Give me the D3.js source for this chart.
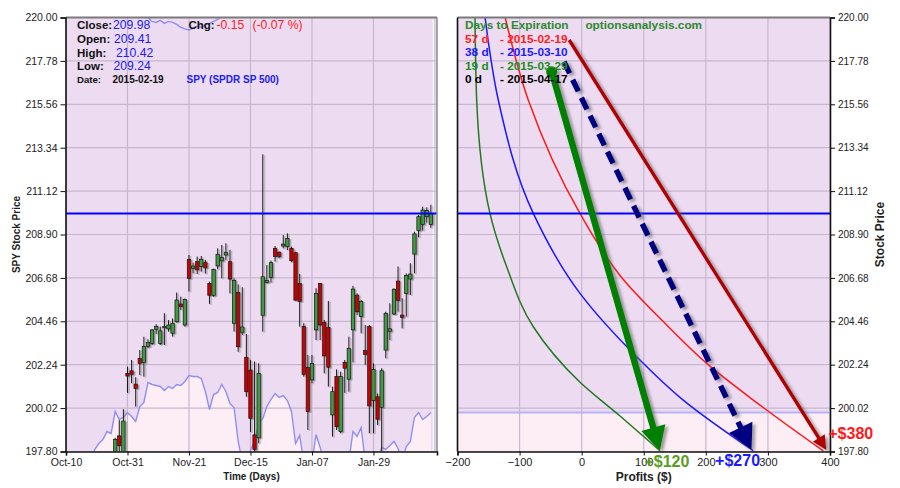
<!DOCTYPE html>
<html><head><meta charset="utf-8">
<script src="https://cdn.jsdelivr.net/npm/d3@7"></script>
<style>
body{margin:0;background:#fff;}
svg{display:block;font-family:"Liberation Sans",Arial,sans-serif;}
</style></head><body>
<svg id="c" width="900" height="488"></svg>
<script>
// ---------------- DATA ----------------
// trading-day index 0 = 2014-10-10 ... 89 = 2015-02-19
const openP  = [193.5,190.2,188.3,185.2,183.9,188.4,188.1,191.7,194.5,193.7,194.6,195.0,196.3,198.6,197.4,201.80,201.93,201.25,202.55,202.36,203.17,203.33,204.05,203.33,204.17,204.07,203.85,204.44,205.35,204.27,207.63,207.17,207.51,207.26,207.46,206.40,205.79,207.29,207.55,207.85,207.51,204.36,205.94,203.90,202.62,201.97,198.65,198.50,204.77,206.44,206.71,208.19,208.00,208.31,208.28,208.19,207.97,206.40,204.19,202.11,201.46,204.02,206.40,204.41,204.15,199.67,201.63,198.82,202.36,201.50,204.02,205.80,204.70,202.96,204.19,200.40,200.60,200.06,202.99,203.95,204.83,206.52,204.78,205.89,206.62,207.90,209.10,209.42,209.81,209.41];
const highP  = [194.0,191.0,189.8,187.0,187.1,189.7,190.4,194.2,194.8,195.2,195.7,195.9,198.5,199.4,199.96,202.14,202.48,201.60,202.99,203.67,203.54,204.06,204.31,204.19,204.87,204.52,204.61,205.93,205.72,205.63,207.85,207.46,207.77,207.80,207.60,206.49,207.15,208.19,208.36,208.45,208.11,206.66,206.35,206.20,203.81,202.48,202.40,202.31,213.00,207.34,207.56,208.31,208.02,208.87,208.96,208.28,208.02,206.88,204.36,202.74,202.74,206.15,206.40,204.53,205.50,201.12,202.00,201.88,202.48,203.67,206.27,205.89,205.55,204.27,204.27,202.31,200.77,202.06,204.95,205.38,206.15,207.26,205.64,206.91,207.43,209.04,209.90,210.32,210.29,210.42];
const lowP   = [190.5,187.4,187.5,181.9,183.3,187.8,188.0,191.3,192.0,192.9,194.0,194.7,196.1,196.9,196.9,200.80,201.29,200.10,201.71,201.63,203.08,203.25,203.81,203.25,203.25,203.93,203.68,204.39,205.04,204.19,205.98,206.91,206.88,207.00,206.90,205.35,205.72,207.12,206.66,207.60,205.89,203.93,202.90,203.76,200.60,198.80,197.50,198.22,203.93,206.40,206.44,207.51,207.68,208.19,208.10,207.48,205.52,204.19,201.63,198.90,201.29,203.50,203.50,201.80,201.12,198.56,198.90,198.73,200.80,200.86,202.36,204.78,203.85,202.23,198.73,198.73,199.16,197.80,202.57,203.50,204.78,204.95,204.10,204.70,205.81,206.91,208.76,209.10,209.51,209.24];
const closeP = [190.54,187.41,187.70,186.43,186.27,188.47,190.30,194.07,191.96,194.35,195.66,195.44,198.42,198.10,199.36,201.66,201.75,201.03,202.31,203.17,203.37,204.02,204.19,203.97,204.19,204.27,204.36,205.55,205.21,205.58,206.66,207.29,207.09,207.63,207.19,205.79,207.12,207.89,207.72,207.99,206.62,206.54,203.16,204.17,200.86,199.50,197.90,201.80,206.74,206.54,207.46,207.77,207.77,208.41,208.70,207.56,205.54,205.47,201.75,199.84,202.31,205.89,204.27,202.69,202.11,200.86,199.07,201.63,202.06,203.08,206.11,204.95,205.47,202.77,200.13,202.00,199.45,201.93,204.87,204.08,206.10,205.52,204.66,206.80,206.88,208.93,209.81,210.15,210.13,209.98];
// lower indicator line (arbitrary units, negative = below panel floor)
const lowerLine = [-10,-10,-10,-10,-10,-10,-10,2,8,12,20,18,40,32,34,39,35,30,45,49,69,67,66,65,61,65,63,67,66,70,76,75,75,73,60,42,57,59,67,60,48,44,10,-10,-10,1,10,28,33,45,52,58,54,56,51,40,8,16,-10,-10,-10,17,4,-10,-10,-10,-10,-10,-10,-10,20,15,24,-10,-10,-10,-10,4,2,6,10,3,-10,5,10,34,39,32,35,39];
// upper indicator segment (price units, trading-day index 19..39)
const upperIdx  = [19,20,21,22,23,24,25,26,27,28,29,30,31,32,33,34,35,36,37,38,39];
const upperLine = [220.4,220.0,219.8,219.75,219.85,219.7,219.8,219.75,219.65,219.5,219.42,219.36,219.45,219.55,219.5,219.62,219.7,219.8,219.9,220.05,220.3];
const currentPrice = 209.98;
const lastDate = "2015-02-19";
const symbolName = "SPY (SPDR SP 500)";

const priceTicks = [197.80,200.02,202.24,204.46,206.68,208.90,211.12,213.34,215.56,217.78,220.00];
const timeTickIdx = [0,15,30,45,60,75];
const timeTickLabels = ["Oct-10","Oct-31","Nov-21","Dec-15","Jan-07","Jan-29"];
const profitTicks = [-200,-100,0,100,200,300,400];

// P/L curves: price levels and profit ($) for each days-to-expiration
const curvePrices19 = [220.03,215.78,209.98,207.25,204.18,201.37,199.64,197.84];
const curveProfit19 = [-171.8,-169.1,-147.7,-120.8,-77.9,-3.5,60.9,126.1];
const curvePrices38 = [220.03,215.78,209.98,205.89,202.65,200.43,197.84];
const curveProfit38 = [-155.7,-134.3,-77.9,-2.7,88.6,163.6,276.3];
const curvePrices57 = [220.03,215.78,209.98,206.68,204.46,202.31,200.43,197.83];
const curveProfit57 = [-123.5,-86.0,-2.7,65.0,131.0,201.4,276.5,389.2];
const refProfits = [-175, 0];          // expiration (0 d) loss line and zero line
const lowerBandPrice = 199.79;

const expDays  = ["57 d","38 d","19 d","0 d"];
const expDates = ["2015-02-19","2015-03-10","2015-03-29","2015-04-17"];
const expColors = ["#ff2020","#2020ff","#228b22","#000000"];

// arrows: [profit, price] start/end, gains
const arrowStart = [[-20, 218.85], [-28.5, 217.74], [-48.3, 217.23]];
const arrowEnd   = [[394, 197.88], [273.7, 197.88], [126, 197.84]];
const gains = [380, 270, 120];

// ---------------- DRAW ----------------
const svg = d3.select("#c");
const defs = svg.append("defs");
const sh = defs.append("filter").attr("id","sh").attr("x","-20%").attr("y","-20%").attr("width","140%").attr("height","140%");
sh.append("feDropShadow").attr("dx",3).attr("dy",2).attr("stdDeviation",1.6).attr("flood-color","#666").attr("flood-opacity",0.6);
const sh2 = defs.append("filter").attr("id","sh2").attr("x","-50%").attr("y","-5%").attr("width","200%").attr("height","110%");
sh2.append("feDropShadow").attr("dx",1.5).attr("dy",1).attr("stdDeviation",0.6).attr("flood-color","#777").attr("flood-opacity",0.7);

const LBG = "#eddbf2", PINK = "#fdedf5", GRID = "#c7b7ce";
const yS = d3.scaleLinear().domain([197.8,220]).range([451.5,17.5]);
const xL = d3.scaleLinear().domain([0,90.5]).range([66,437]);
const xR = d3.scaleLinear().domain([-200,400]).range([457.5,830]);
const volS = d3.scaleLinear().domain([0,100]).range([451.5,351.5]);

defs.append("clipPath").attr("id","clipL").append("rect")
  .attr("x",xL(0)).attr("y",yS(220)).attr("width",xL(90.5)-xL(0)).attr("height",yS(197.8)-yS(220));
defs.append("clipPath").attr("id","clipR").append("rect")
  .attr("x",xR(-200)).attr("y",yS(220)).attr("width",xR(400)-xR(-200)).attr("height",yS(197.8)-yS(220));

// ===== LEFT PANEL =====
const L = svg.append("g");
L.append("rect").attr("x",xL(0)).attr("y",yS(220)).attr("width",xL(90.5)-xL(0)).attr("height",yS(197.8)-yS(220)).attr("fill",LBG);
const LC = L.append("g").attr("clip-path","url(#clipL)");
LC.append("rect").attr("x",xL(89.4)).attr("y",yS(220)).attr("width",xL(90.5)-xL(89.4)).attr("height",yS(197.8)-yS(220)).attr("fill","#f7eff8");
const idx = d3.range(openP.length);
LC.append("path").datum(idx)
  .attr("d", d3.area().x(i=>xL(i)).y0(yS(197.8)+5).y1(i=>volS(lowerLine[i])))
  .attr("fill",PINK);
// grid
LC.selectAll(".gy").data(priceTicks).join("line")
  .attr("x1",xL(0)).attr("x2",xL(90.5)).attr("y1",d=>yS(d)).attr("y2",d=>yS(d))
  .attr("stroke",GRID).attr("stroke-width",1.2);
LC.selectAll(".gx").data(timeTickIdx.concat([90])).join("line")
  .attr("x1",d=>xL(d)).attr("x2",d=>xL(d)).attr("y1",yS(220)).attr("y2",yS(197.8))
  .attr("stroke",GRID).attr("stroke-width",1.2);
LC.append("path").datum(idx)
  .attr("d", d3.line().x(i=>xL(i)).y(i=>volS(lowerLine[i])))
  .attr("fill","none").attr("stroke","#8f8ff2").attr("stroke-width",1.4);
LC.append("path").datum(d3.range(upperIdx.length))
  .attr("d", d3.line().x(k=>xL(upperIdx[k])).y(k=>yS(upperLine[k])))
  .attr("fill","none").attr("stroke","#8f8ff2").attr("stroke-width",1.4);
// candles
const cg = LC.append("g").attr("filter","url(#sh2)");
cg.selectAll(".wk").data(idx).join("line")
  .attr("x1",i=>xL(i)).attr("x2",i=>xL(i)).attr("y1",i=>yS(highP[i])).attr("y2",i=>yS(lowP[i]))
  .attr("stroke","#1a1a1a").attr("stroke-width",1);
cg.selectAll(".bd").data(idx).join("rect")
  .attr("x",i=>xL(i)-1.7).attr("width",3.4)
  .attr("y",i=>yS(Math.max(openP[i],closeP[i])))
  .attr("height",i=>Math.max(1.2, Math.abs(yS(openP[i])-yS(closeP[i]))))
  .attr("fill",i=>closeP[i]>=openP[i]?"#3f9c3f":"#cc0000")
  .attr("stroke","#111").attr("stroke-width",0.7);
// current price
L.append("line").attr("x1",xL(0)).attr("x2",xL(90.5)).attr("y1",yS(currentPrice)).attr("y2",yS(currentPrice))
  .attr("stroke","#0000ff").attr("stroke-width",2);
// borders/axes
L.append("line").attr("x1",xL(0)).attr("x2",xL(90.5)).attr("y1",yS(220)).attr("y2",yS(220)).attr("stroke","#7a7a7a").attr("stroke-width",2);
L.append("line").attr("x1",xL(90.5)).attr("x2",xL(90.5)).attr("y1",yS(220)).attr("y2",yS(197.8)).attr("stroke","#8a8a8a").attr("stroke-width",1.5);
const axL = L.append("g").attr("transform",`translate(${xL(0)-0.5},0)`)
  .call(d3.axisLeft(yS).tickValues(priceTicks).tickFormat(d=>d.toFixed(2)).tickSize(5).tickPadding(3));
const axB = L.append("g").attr("transform",`translate(0,${yS(197.8)})`)
  .call(d3.axisBottom(xL).tickValues(timeTickIdx).tickFormat((d,k)=>timeTickLabels[k]).tickSize(4).tickPadding(3));
[axL,axB].forEach(a=>{
  a.select(".domain").attr("stroke","#111").attr("stroke-width",1.6);
  a.selectAll(".tick line").attr("stroke","#111");
  a.selectAll("text").attr("fill","#222").style("font-size","10.5px").style("font-family","Liberation Sans, Arial, sans-serif");
});
L.append("text").attr("transform",`translate(20,${yS(208.9)}) rotate(-90)`).attr("text-anchor","middle")
  .style("font-size","10px").style("font-weight","bold").attr("fill","#222").text("SPY Stock Price");
L.append("text").attr("x",(xL(0)+xL(90.5))/2).attr("y",480).attr("text-anchor","middle")
  .style("font-size","10px").style("font-weight","bold").attr("fill","#222").text("Time (Days)");

// left legend (from last candle)
const n = closeP.length-1;
const chg = closeP[n]-closeP[n-1];
const leg = L.append("g").style("font-size","11.5px");
function t(x,y,txt,col,bold,size){const e=leg.append("text").attr("x",x).attr("y",y).attr("fill",col).text(txt);
  if(bold) e.style("font-weight","bold"); if(size) e.style("font-size",size); return e;}
t(77,29,"Close:","#111",true); t(113,29,closeP[n].toFixed(2),"#2020f0",false,"12.2px");
t(77,42.7,"Open:","#111",true); t(114,42.7,openP[n].toFixed(2),"#2020f0",false,"12.2px");
t(77,56.5,"High:","#111",true); t(116,56.5,highP[n].toFixed(2),"#2020f0",false,"12.2px");
t(77,70,"Low:","#111",true); t(113.5,70,lowP[n].toFixed(2),"#2020f0",false,"12.2px");
t(77,83,"Date:","#111",true,"9.6px"); t(112.5,83,lastDate,"#111",true,"10px"); t(186.5,83,symbolName,"#2020f0",true,"10px");
t(188.5,29,"Chg:","#111",true); t(216.5,29,chg.toFixed(2),"#ff2020",false,"12.2px");
t(252.5,29,"("+(chg/closeP[n-1]*100).toFixed(2)+" %)","#ff2020",false,"12.2px");

// ===== RIGHT PANEL =====
const R = svg.append("g");
R.append("rect").attr("x",xR(-200)).attr("y",yS(220)).attr("width",xR(400)-xR(-200)).attr("height",yS(197.8)-yS(220)).attr("fill",LBG);
const RC = R.append("g").attr("clip-path","url(#clipR)");
RC.append("rect").attr("x",xR(-200)).attr("y",yS(lowerBandPrice)).attr("width",xR(400)-xR(-200)).attr("height",yS(197.8)-yS(lowerBandPrice)).attr("fill",PINK);
RC.selectAll(".gy").data(priceTicks).join("line")
  .attr("x1",xR(-200)).attr("x2",xR(400)).attr("y1",d=>yS(d)).attr("y2",d=>yS(d))
  .attr("stroke",GRID).attr("stroke-width",1.2);
RC.selectAll(".gx").data(profitTicks).join("line")
  .attr("x1",d=>xR(d)).attr("x2",d=>xR(d)).attr("y1",yS(220)).attr("y2",yS(197.8))
  .attr("stroke",GRID).attr("stroke-width",1.2);
RC.append("line").attr("x1",xR(-200)).attr("x2",xR(400)).attr("y1",yS(lowerBandPrice)).attr("y2",yS(lowerBandPrice))
  .attr("stroke","#b4b4f8").attr("stroke-width",2);
RC.selectAll(".ref").data(refProfits).join("line")
  .attr("x1",d=>xR(d)).attr("x2",d=>xR(d)).attr("y1",yS(220)).attr("y2",yS(197.8))
  .attr("stroke","#111").attr("stroke-width",2).attr("filter","url(#sh2)");
const curves = [[curvePrices57,curveProfit57,"#ff1a1a"],[curvePrices38,curveProfit38,"#1a1aff"],[curvePrices19,curveProfit19,"#1f7a1f"]];
const cl = d3.line().curve(d3.curveMonotoneY);
curves.forEach(([pr,pf,col])=>{
  const pts = pr.map((p,k)=>[xR(pf[k]),yS(p)]).sort((a,b)=>a[1]-b[1]);
  RC.append("path").attr("d",cl(pts))
    .attr("fill","none").attr("stroke",col).attr("stroke-width",1.5);
});
RC.append("line").attr("x1",xR(-200)).attr("x2",xR(400)).attr("y1",yS(currentPrice)).attr("y2",yS(currentPrice))
  .attr("stroke","#0000ff").attr("stroke-width",2);

// arrows
const arrowStyle = [
  {col:"#b00000", w:3.4, hl:14, hw:14, dash:null, dot:false},
  {col:"#000080", w:5.5, hl:25, hw:26, dash:"13,7", dot:false},
  {col:"#008000", w:6.5, hl:24, hw:25, dash:null, dot:true}
];
const AG = R.append("g").attr("filter","url(#sh)");
arrowStart.forEach((s,k)=>{
  const st = arrowStyle[k];
  const x0=xR(s[0]), y0=yS(s[1]), x1=xR(arrowEnd[k][0]), y1=yS(arrowEnd[k][1]);
  const len=Math.hypot(x1-x0,y1-y0), ux=(x1-x0)/len, uy=(y1-y0)/len;
  const bx=x1-ux*st.hl, by=y1-uy*st.hl;
  const ln = AG.append("line").attr("x1",x0).attr("y1",y0).attr("x2",bx+ux*2).attr("y2",by+uy*2)
    .attr("stroke",st.col).attr("stroke-width",st.w);
  if(st.dash) ln.attr("stroke-dasharray",st.dash);
  if(st.dot) AG.append("circle").attr("cx",x0).attr("cy",y0).attr("r",st.w*0.85).attr("fill",st.col);
  AG.append("path").attr("d",`M${x1},${y1}L${bx-uy*st.hw/2},${by+ux*st.hw/2}L${bx+uy*st.hw/2},${by-ux*st.hw/2}Z`)
    .attr("fill",st.col);
});

// frame/axes
R.append("line").attr("x1",xR(-200)).attr("x2",xR(400)).attr("y1",yS(220)).attr("y2",yS(220)).attr("stroke","#7a7a7a").attr("stroke-width",2);
R.append("line").attr("x1",xR(-200)).attr("x2",xR(-200)).attr("y1",yS(220)).attr("y2",yS(197.8)).attr("stroke","#111").attr("stroke-width",1.6);
const axR = R.append("g").attr("transform",`translate(${xR(400)},0)`)
  .call(d3.axisRight(yS).tickValues(priceTicks).tickFormat(d=>d.toFixed(2)).tickSize(5).tickPadding(3));
const axRB = R.append("g").attr("transform",`translate(0,${yS(197.8)})`)
  .call(d3.axisBottom(xR).tickValues(profitTicks).tickFormat(d=>d<0?"\u2212"+Math.abs(d):String(d)).tickSize(4).tickPadding(3));
[axR,axRB].forEach(a=>{
  a.select(".domain").attr("stroke","#111").attr("stroke-width",1.6);
  a.selectAll(".tick line").attr("stroke","#111");
  a.selectAll("text").attr("fill","#222").style("font-family","Liberation Sans, Arial, sans-serif");
});
axR.selectAll("text").style("font-size","10px");
axRB.selectAll("text").style("font-size","11px");
R.append("text").attr("transform",`translate(884,${yS(208.9)}) rotate(-90)`).attr("text-anchor","middle")
  .style("font-size","12px").style("font-weight","bold").attr("fill","#222").text("Stock Price");
R.append("text").attr("x",xR(100)).attr("y",481).attr("text-anchor","middle")
  .style("font-size","12px").style("font-weight","bold").attr("fill","#222").text("Profits ($)");

// right legend
const rl = R.append("g").style("font-size","11.8px").style("font-weight","bold");
rl.append("text").attr("x",465).attr("y",29).attr("fill","#2a8a2a").text("Days to Expiration");
rl.append("text").attr("x",xR(100)).attr("y",29).attr("text-anchor","middle").attr("fill","#2a8a2a").text("optionsanalysis.com");
expDays.forEach((d,k)=>{
  rl.append("text").attr("x",465).attr("y",42.7+k*13.4).attr("fill",expColors[k]).text(d);
  rl.append("text").attr("x",500).attr("y",42.7+k*13.4).attr("fill",expColors[k]).text("- "+expDates[k]);
});

// gain labels
const gainCols = ["#ff1a1a","#1a1aff","#5a9e22"];
const gainOff = [[2,-11,"start"],[-14,16,"middle"],[7,16,"middle"]];
gains.forEach((g,k)=>{
  R.append("text").attr("x",xR(arrowEnd[k][0])+gainOff[k][0]).attr("y",yS(arrowEnd[k][1])+gainOff[k][1])
    .attr("text-anchor",gainOff[k][2]).attr("fill",gainCols[k])
    .style("font-size","16px").style("font-weight","bold").text("+$"+g);
});
</script></body></html>
